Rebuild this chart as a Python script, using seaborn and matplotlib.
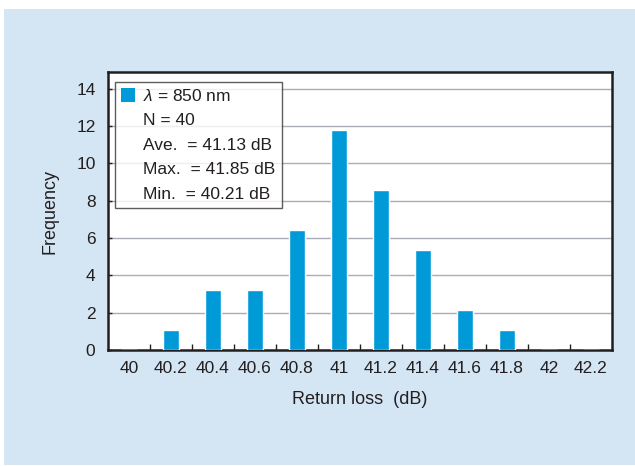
import matplotlib
matplotlib.use("Agg")
import matplotlib.pyplot as plt
from matplotlib.patches import Rectangle, Patch
import seaborn as sns
import pandas as pd

categories = ["40", "40.2", "40.4", "40.6", "40.8", "41", "41.2", "41.4", "41.6", "41.8", "42", "42.2"]
frequency = [0, 1.05, 3.2, 3.2, 6.45, 11.8, 8.6, 5.35, 2.15, 1.05, 0, 0]
yticks = [0, 2, 4, 6, 8, 10, 12, 14]
legend_lines = [r"$\lambda$ = 850 nm", "N = 40", "Ave.  = 41.13 dB", "Max.  = 41.85 dB", "Min.  = 40.21 dB"]

sns.set_theme(style="white")
plt.rcParams["font.family"] = ["Liberation Sans", "DejaVu Sans"]
plt.rcParams["mathtext.fontset"] = "custom"
plt.rcParams["mathtext.it"] = "Liberation Sans:italic"
plt.rcParams["mathtext.rm"] = "Liberation Sans"

bar_color = "#009ad9"
bg = "#d4e5f4"

fig = plt.figure(figsize=(6.35, 4.66), dpi=100, facecolor="white")
fig.patches.append(Rectangle((4 / 635, 1 / 466), 1 - 4 / 635, (466 - 10) / 466,
                             transform=fig.transFigure, facecolor=bg, edgecolor="none", zorder=-10))
ax = fig.add_axes([108 / 635, (466 - 350) / 466, (612 - 108) / 635, (350 - 72) / 466])
ax.set_zorder(1)

df = pd.DataFrame({"loss": categories, "freq": frequency})
sns.barplot(data=df, x="loss", y="freq", color=bar_color, saturation=1, width=0.4, ax=ax, zorder=3)

ax.set_ylim(0, 14.9)
ax.set_xlim(-0.5, len(categories) - 0.5)
ax.set_yticks(yticks)
ax.yaxis.grid(True, color="#a9adb8", linewidth=1.0, zorder=0)
ax.set_axisbelow(True)
ax.set_facecolor("white")
for s in ax.spines.values():
    s.set_color("#231f20")
    s.set_linewidth(1.8)
    s.set_visible(True)

# tick marks at category boundaries
ax.set_xticks([i + 0.5 for i in range(len(categories) - 1)], minor=True)
ax.tick_params(axis="x", which="minor", direction="in", length=4, width=1, color="#231f20", bottom=True)
ax.tick_params(axis="x", which="major", length=0, labelsize=12.5, pad=8, colors="#231f20")
ax.tick_params(axis="y", which="major", direction="in", length=3, width=1, color="#231f20", left=True,
               labelsize=12.5, pad=9, labelcolor="#231f20")

ax.set_xlabel("Return loss  (dB)", fontsize=13, color="#231f20", labelpad=11)
ax.set_ylabel("Frequency", fontsize=13, color="#231f20", labelpad=13)

handles = [Patch(facecolor=bar_color, edgecolor="none")] + [Patch(facecolor="none", edgecolor="none")] * 4
leg = ax.legend(handles, legend_lines, loc="upper left", bbox_to_anchor=(0.008, 0.975),
                fontsize=12.5, frameon=True, fancybox=False, handlelength=0.85, handleheight=0.85,
                handletextpad=0.45, labelspacing=0.5, borderpad=0.35, borderaxespad=0.15)
leg.get_frame().set_edgecolor("#333333")
leg.get_frame().set_linewidth(1.0)
leg.get_frame().set_facecolor("white")
leg.set_zorder(5)
for t in leg.get_texts():
    t.set_color("#231f20")

fig.savefig("out.png", dpi=100, facecolor=fig.get_facecolor())
